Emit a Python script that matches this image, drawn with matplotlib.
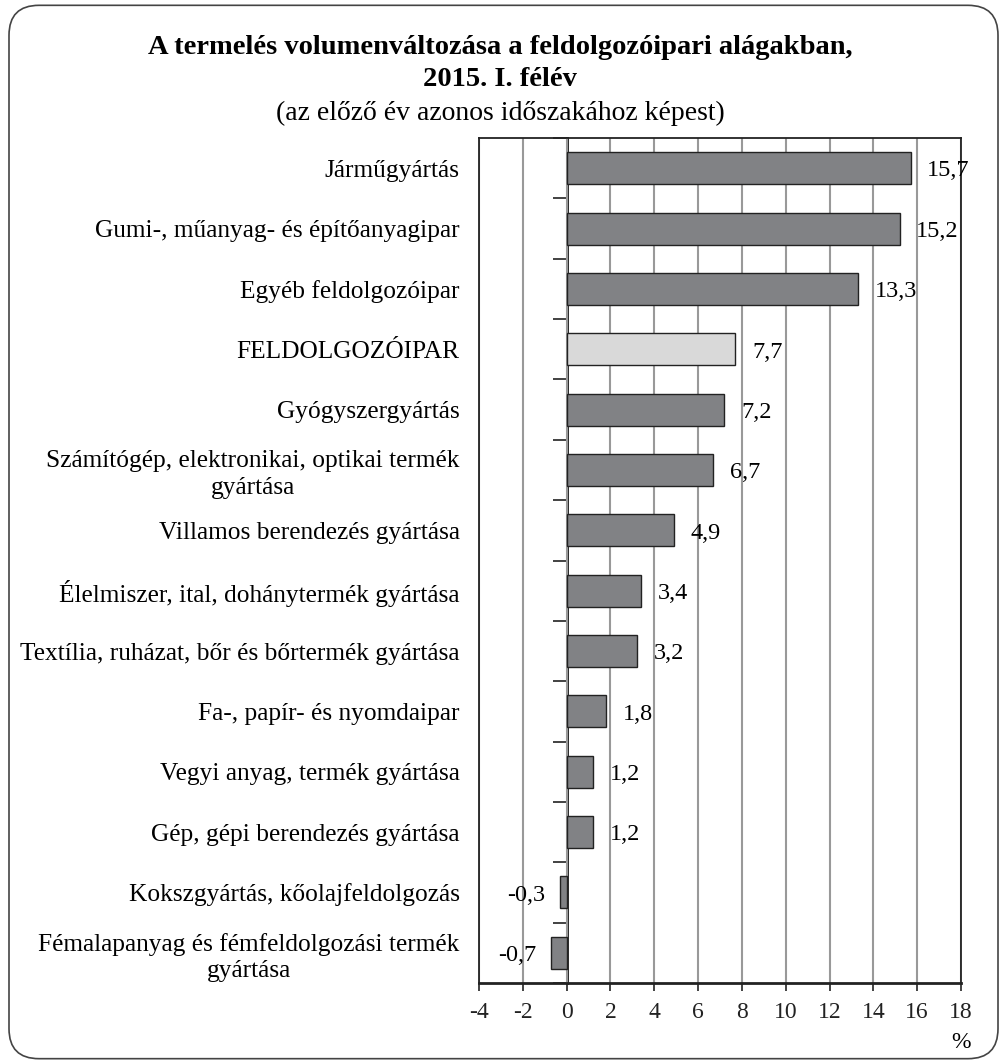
import matplotlib
matplotlib.use("Agg")
import matplotlib.pyplot as plt
from matplotlib.patches import FancyBboxPatch
import numpy as np

categories = [
    "Járműgyártás",
    "Gumi-, műanyag- és építőanyagipar",
    "Egyéb feldolgozóipar",
    "FELDOLGOZÓIPAR",
    "Gyógyszergyártás",
    "Számítógép, elektronikai, optikai termék\ngyártása",
    "Villamos berendezés gyártása",
    "Élelmiszer, ital, dohánytermék gyártása",
    "Textília, ruházat, bőr és bőrtermék gyártása",
    "Fa-, papír- és nyomdaipar",
    "Vegyi anyag, termék gyártása",
    "Gép, gépi berendezés gyártása",
    "Kokszgyártás, kőolajfeldolgozás",
    "Fémalapanyag és fémfeldolgozási termék\ngyártása",
]
values = [15.7, 15.2, 13.3, 7.7, 7.2, 6.7, 4.9, 3.4, 3.2, 1.8, 1.2, 1.2, -0.3, -0.7]
highlight = "FELDOLGOZÓIPAR"
xticks = [-4, -2, 0, 2, 4, 6, 8, 10, 12, 14, 16, 18]

plt.rcParams['font.family'] = ['Liberation Serif', 'DejaVu Serif']

fig = plt.figure(figsize=(10, 10.64), dpi=100)
frame = FancyBboxPatch((0.009, 0.005), 0.989, 0.99, boxstyle="round,pad=0,rounding_size=0.03",
                       transform=fig.transFigure, facecolor="none", edgecolor="#444444",
                       linewidth=1.2, mutation_aspect=1/1.064, zorder=10)
fig.patches.append(frame)

ax = fig.add_axes([0.479, 1 - 983/1064, 0.482, (983 - 138)/1064])
n = len(categories)
y = np.arange(n)
colors = ["#d9d9d9" if c == highlight else "#818285" for c in categories]
ax.barh(y, values, height=0.53, color=colors, edgecolor="#222222", linewidth=1.0, zorder=3)
ax.set_ylim(n - 0.5, -0.5)
ax.set_xlim(-4, 18)
ax.set_xticks(xticks)
ax.set_xticklabels([str(t) for t in xticks], fontsize=17)
ax.tick_params(axis='x', direction='out', length=6, width=1.2, pad=8, colors='#222222')
ax.set_yticks(y)
ax.set_yticklabels(categories, fontsize=18.3, multialignment='center', linespacing=1.25)
ax.tick_params(axis='y', length=0, pad=14)
for sp in ax.spines.values():
    sp.set_color('#222222')
    sp.set_linewidth(1.3)
ax.spines['bottom'].set_linewidth(2)
ax.grid(axis='x', color='#999999', linewidth=1.5, zorder=0)
ax.set_axisbelow(True)

# zero axis with category boundary ticks
sec = ax.secondary_yaxis(4/22)
sec.spines['left'].set_linewidth(2)
sec.spines['left'].set_color('#111111')
sec.set_yticks(np.arange(-0.5, n, 1))
sec.set_yticklabels([])
sec.tick_params(axis='y', direction='out', length=10, width=1.2, colors='#222222')

for yi, v in zip(y, values):
    lab = f"{v:.1f}".replace(".", ",")
    if v >= 0:
        ax.annotate(lab, (v, yi), xytext=(12, -2), textcoords='offset points',
                    ha='left', va='center', fontsize=17.5, annotation_clip=False, zorder=5)
    else:
        ax.annotate(lab, (v, yi), xytext=(-11, -2), textcoords='offset points',
                    ha='right', va='center', fontsize=17.5, annotation_clip=False, zorder=5)

fig.text(0.971, 1 - 1043/1064, "%", ha='right', va='center', fontsize=17)

fig.text(0.5, 1 - 47/1064, "A termelés volumenváltozása a feldolgozóipari alágakban,",
         ha='center', va='center', fontsize=20.5, fontweight='bold')
fig.text(0.5, 1 - 80/1064, "2015. I. félév", ha='center', va='center', fontsize=20.5, fontweight='bold')
fig.text(0.5, 1 - 113/1064, "(az előző év azonos időszakához képest)", ha='center', va='center', fontsize=20)

fig.savefig("out.png", dpi=100)
